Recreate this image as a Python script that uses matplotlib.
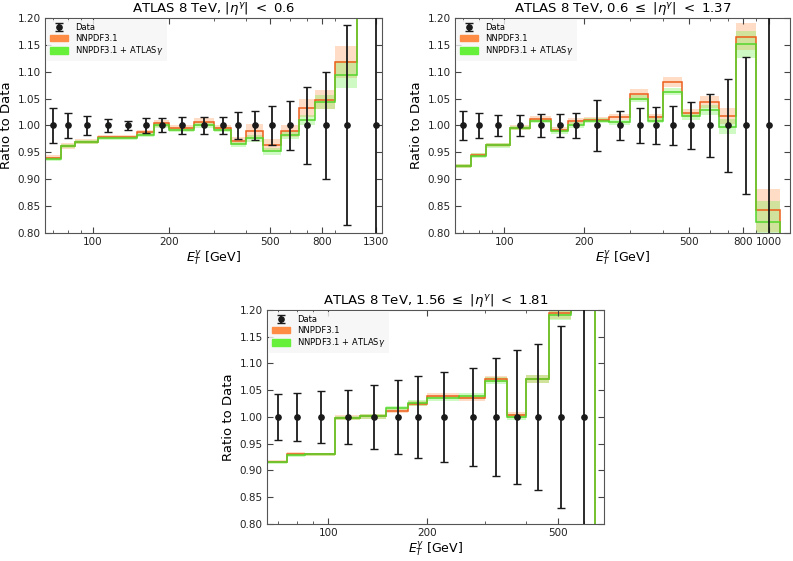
import matplotlib
matplotlib.use("Agg")
import matplotlib.pyplot as plt
from matplotlib.patches import Patch
from matplotlib.ticker import FixedLocator, FixedFormatter, MultipleLocator, FormatStrFormatter, LogLocator, NullFormatter

# bin edges in E_T (GeV) for the three rapidity bins
edges_a = [65, 75, 85, 105, 125, 150, 175, 200, 250, 300, 350, 400, 470, 550, 650, 750, 900, 1100, 1500]
edges_b = [65, 75, 85, 105, 125, 150, 175, 200, 250, 300, 350, 400, 470, 550, 650, 750, 900, 1100]
edges_c = [65, 75, 85, 105, 125, 150, 175, 200, 250, 300, 350, 400, 470, 550, 650]

# data points (bin centres) and relative uncertainties
et_a = [70, 80, 95, 115, 137.5, 162.5, 187.5, 225, 275, 325, 375, 435, 510, 600, 700, 825, 1000, 1300]
err_a = [0.032, 0.023, 0.018, 0.012, 0.009, 0.014, 0.013, 0.015, 0.016, 0.015, 0.025, 0.027,
         0.037, 0.046, 0.071, 0.100, 0.186, 0.40]
et_b = [70, 80, 95, 115, 137.5, 162.5, 187.5, 225, 275, 325, 375, 435, 510, 600, 700, 825, 1000]
err_b = [0.027, 0.023, 0.020, 0.019, 0.021, 0.021, 0.024, 0.047, 0.027, 0.033, 0.034, 0.036,
         0.043, 0.058, 0.086, 0.127, 0.40]
et_c = [70, 80, 95, 115, 137.5, 162.5, 187.5, 225, 275, 325, 375, 435, 510, 600]
err_c = [0.043, 0.045, 0.049, 0.050, 0.060, 0.069, 0.077, 0.085, 0.092, 0.110, 0.126, 0.137, 0.171, 0.40]

# NNPDF3.1 ratio to data and its uncertainty
nn_a = [0.940, 0.962, 0.970, 0.979, 0.979, 0.987, 1.004, 0.995, 1.006, 0.995, 0.972, 0.990,
        0.964, 0.990, 1.033, 1.048, 1.118, 1.300]
nn_unc_a = [0.005, 0.005, 0.005, 0.004, 0.004, 0.005, 0.006, 0.005, 0.007, 0.006, 0.007, 0.012,
            0.010, 0.011, 0.017, 0.018, 0.030, 0.040]
nn_b = [0.925, 0.945, 0.964, 0.996, 1.012, 0.992, 1.008, 1.011, 1.016, 1.058, 1.015, 1.081,
        1.023, 1.043, 1.018, 1.165, 0.842]
nn_unc_b = [0.004, 0.004, 0.004, 0.004, 0.005, 0.005, 0.005, 0.005, 0.006, 0.010, 0.006, 0.010,
            0.008, 0.011, 0.015, 0.025, 0.040]
nn_c = [0.9165, 0.931, 0.930, 0.999, 1.001, 1.011, 1.025, 1.040, 1.035, 1.071, 1.004, 1.071,
        1.194, 1.300]
nn_unc_c = [0.003, 0.003, 0.003, 0.004, 0.004, 0.004, 0.005, 0.005, 0.005, 0.006, 0.006, 0.008,
            0.010, 0.015]

# NNPDF3.1 + ATLAS photon ratio to data and uncertainty
gam_a = [0.938, 0.962, 0.969, 0.977, 0.977, 0.983, 1.000, 0.992, 1.001, 0.992, 0.965, 0.976,
         0.952, 0.982, 1.010, 1.044, 1.094, 1.300]
gam_unc_a = [0.004, 0.004, 0.004, 0.004, 0.004, 0.004, 0.005, 0.004, 0.005, 0.005, 0.005, 0.006,
             0.007, 0.008, 0.010, 0.013, 0.025, 0.035]
gam_b = [0.924, 0.944, 0.963, 0.995, 1.008, 0.989, 1.001, 1.009, 1.006, 1.050, 1.009, 1.063,
         1.017, 1.029, 0.998, 1.151, 0.820]
gam_unc_b = [0.004, 0.004, 0.004, 0.004, 0.004, 0.004, 0.005, 0.005, 0.005, 0.007, 0.005, 0.007,
             0.007, 0.009, 0.014, 0.025, 0.040]
gam_c = [0.915, 0.929, 0.930, 0.998, 1.001, 1.017, 1.026, 1.035, 1.039, 1.068, 1.000, 1.071,
         1.191, 1.300]
gam_unc_c = [0.003, 0.003, 0.003, 0.004, 0.004, 0.004, 0.005, 0.005, 0.005, 0.006, 0.006, 0.008,
             0.010, 0.015]

titles = [r"ATLAS 8 TeV, $|\eta^\gamma|\ <\ 0.6$",
          r"ATLAS 8 TeV, $0.6\ \leq\ |\eta^\gamma|\ <\ 1.37$",
          r"ATLAS 8 TeV, $1.56\ \leq\ |\eta^\gamma|\ <\ 1.81$"]
xticks_a = [100, 200, 500, 800, 1300]
xticks_b = [100, 200, 500, 800, 1000]
xticks_c = [100, 200, 500]

orange_line = "#ec5f1c"
orange_fill = "#ff8c45"
green_line = "#52d62a"
green_fill = "#66f03a"


def panel(ax, edges, et, err, nn, nn_unc, gam, gam_unc, title, xticks, xmax):
    left = edges[:-1]
    width = [edges[i + 1] - edges[i] for i in range(len(edges) - 1)]
    # uncertainty bands
    ax.bar(left, [2 * u for u in nn_unc], width=width, bottom=[v - u for v, u in zip(nn, nn_unc)],
           align="edge", color=orange_fill, alpha=0.3, linewidth=0)
    ax.bar(left, [2 * u for u in gam_unc], width=width, bottom=[v - u for v, u in zip(gam, gam_unc)],
           align="edge", color=green_fill, alpha=0.3, linewidth=0)
    # central values
    ax.stairs(nn, edges, color=orange_line, linewidth=1.1)
    ax.stairs(gam, edges, color=green_line, linewidth=1.1)
    eb = ax.errorbar(et, [1.0] * len(et), yerr=err, fmt="o", color="#1a1a1a", markersize=3.8,
                     elinewidth=1.3, capsize=2.6, capthick=1.0, zorder=5)

    ax.set_xscale("log")
    ax.set_xlim(65, xmax)
    ax.set_ylim(0.80, 1.20)
    ax.xaxis.set_major_locator(FixedLocator(xticks))
    ax.xaxis.set_major_formatter(FixedFormatter([str(t) for t in xticks]))
    ax.xaxis.set_minor_locator(LogLocator(base=10, subs=range(2, 10)))
    ax.xaxis.set_minor_formatter(NullFormatter())
    ax.yaxis.set_major_locator(MultipleLocator(0.05))
    ax.yaxis.set_major_formatter(FormatStrFormatter("%.2f"))
    ax.tick_params(which="both", direction="in", top=True, right=True, colors="#444444",
                   labelcolor="#222222", labelsize=7.5)
    ax.tick_params(which="major", length=4, pad=3)
    ax.tick_params(which="minor", length=2)
    for s in ax.spines.values():
        s.set_color("#555555")
        s.set_linewidth(0.8)
    ax.text(0.5, 1.028, title, transform=ax.transAxes, ha="center", va="baseline", fontsize=9.5)
    ax.set_xlabel(r"$E_T^\gamma$ [GeV]", fontsize=9, labelpad=1)
    ax.set_ylabel("Ratio to Data", fontsize=9.5, labelpad=3)

    handles = [eb, Patch(color=orange_fill), Patch(color=green_fill)]
    labels = ["Data", "NNPDF3.1", r"NNPDF3.1 + ATLAS$\gamma$"]
    leg = ax.legend(handles, labels, loc="upper left", fontsize=6, frameon=True,
                    handlelength=2.2, handleheight=0.8, borderpad=0.4, labelspacing=0.2,
                    borderaxespad=0.2, fancybox=False)
    leg.get_frame().set_facecolor("#f5f5f5")
    leg.get_frame().set_edgecolor("none")
    leg.get_frame().set_alpha(0.8)


fig = plt.figure(figsize=(7.93, 5.61), dpi=100)
ax1 = fig.add_axes([0.0567, 0.5847, 0.4250, 0.3833])
ax2 = fig.add_axes([0.5735, 0.5847, 0.4227, 0.3833])
ax3 = fig.add_axes([0.3367, 0.0660, 0.4250, 0.3814])

panel(ax1, edges_a, et_a, err_a, nn_a, nn_unc_a, gam_a, gam_unc_a, titles[0], xticks_a, 1376)
panel(ax2, edges_b, et_b, err_b, nn_b, nn_unc_b, gam_b, gam_unc_b, titles[1], xticks_b, 1205)
panel(ax3, edges_c, et_c, err_c, nn_c, nn_unc_c, gam_c, gam_unc_c, titles[2], xticks_c, 692)

fig.savefig("out.png", dpi=100)
